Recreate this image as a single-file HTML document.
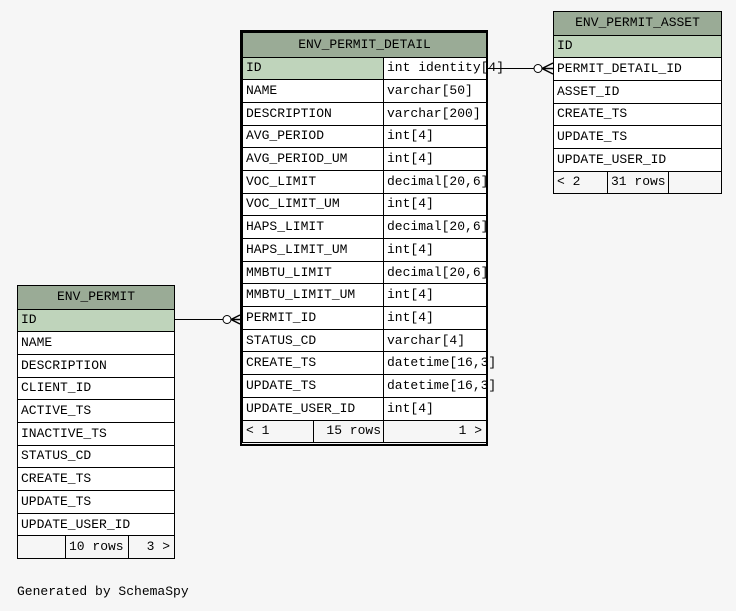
<!DOCTYPE html><html><head><style>
body{margin:0;width:736px;height:611px;background:#f6f6f6;position:relative;overflow:hidden;font-family:"Liberation Mono",monospace;font-size:13px;color:#000}
table{position:absolute;border-collapse:collapse;table-layout:fixed;background:#fff}
td{border:1px solid #000;padding:0 0 0 3px;height:21.7px;white-space:nowrap;overflow:visible;line-height:20px}
td.h{background:#9aab96;text-align:center;padding:0;height:22.5px}
tr.pk td.n{background:#bfd4bb}
tr.f td{background:#f6f6f6}
.r{text-align:right;padding-right:4px}
.box{position:absolute;border:2px solid #000;left:240px;top:30px;width:244px;height:412px}
svg{position:absolute;left:0;top:0}
.gen{position:absolute;left:17px;top:584px}
</style></head><body>
<div class="box"></div>
<table style="left:242px;top:32px;width:244px">
<colgroup><col style="width:141px"><col style="width:103px"></colgroup>
<tr><td class="h" colspan="2" style="height:23.5px">ENV_PERMIT_DETAIL</td></tr>
<tr class="pk"><td class="n">ID</td><td>int identity[4]</td></tr>
<tr><td>NAME</td><td>varchar[50]</td></tr>
<tr><td>DESCRIPTION</td><td>varchar[200]</td></tr>
<tr><td>AVG_PERIOD</td><td>int[4]</td></tr>
<tr><td>AVG_PERIOD_UM</td><td>int[4]</td></tr>
<tr><td>VOC_LIMIT</td><td>decimal[20,6]</td></tr>
<tr><td>VOC_LIMIT_UM</td><td>int[4]</td></tr>
<tr><td>HAPS_LIMIT</td><td>decimal[20,6]</td></tr>
<tr><td>HAPS_LIMIT_UM</td><td>int[4]</td></tr>
<tr><td>MMBTU_LIMIT</td><td>decimal[20,6]</td></tr>
<tr><td>MMBTU_LIMIT_UM</td><td>int[4]</td></tr>
<tr><td>PERMIT_ID</td><td>int[4]</td></tr>
<tr><td>STATUS_CD</td><td>varchar[4]</td></tr>
<tr><td>CREATE_TS</td><td>datetime[16,3]</td></tr>
<tr><td>UPDATE_TS</td><td>datetime[16,3]</td></tr>
<tr><td>UPDATE_USER_ID</td><td>int[4]</td></tr>
<tr class="f"><td colspan="2" style="padding:0"><div style="display:flex;height:21.7px;line-height:20px"><span style="width:67px;border-right:1px solid #000;padding-left:3px">&lt; 1</span><span style="width:67px;border-right:1px solid #000;text-align:right;padding-right:2px">15 rows</span><span style="flex:1;text-align:right;padding-right:4px">1 &gt;</span></div></td></tr>
</table>
<table style="left:553px;top:11px;width:168px">
<colgroup><col style="width:54px"><col style="width:61px"><col style="width:53px"></colgroup>
<tr><td class="h" colspan="3">ENV_PERMIT_ASSET</td></tr>
<tr class="pk"><td class="n" colspan="3">ID</td></tr>
<tr><td colspan="3">PERMIT_DETAIL_ID</td></tr>
<tr><td colspan="3">ASSET_ID</td></tr>
<tr><td colspan="3">CREATE_TS</td></tr>
<tr><td colspan="3">UPDATE_TS</td></tr>
<tr><td colspan="3">UPDATE_USER_ID</td></tr>
<tr class="f"><td>&lt; 2</td><td>31 rows</td><td></td></tr>
</table>
<table style="left:17px;top:285px;width:157px">
<colgroup><col style="width:48px"><col style="width:63px"><col style="width:46px"></colgroup>
<tr><td class="h" colspan="3">ENV_PERMIT</td></tr>
<tr class="pk"><td class="n" colspan="3">ID</td></tr>
<tr><td colspan="3">NAME</td></tr>
<tr><td colspan="3">DESCRIPTION</td></tr>
<tr><td colspan="3">CLIENT_ID</td></tr>
<tr><td colspan="3">ACTIVE_TS</td></tr>
<tr><td colspan="3">INACTIVE_TS</td></tr>
<tr><td colspan="3">STATUS_CD</td></tr>
<tr><td colspan="3">CREATE_TS</td></tr>
<tr><td colspan="3">UPDATE_TS</td></tr>
<tr><td colspan="3">UPDATE_USER_ID</td></tr>
<tr class="f"><td></td><td>10 rows</td><td class="r">3 &gt;</td></tr>
</table>
<svg width="736" height="611">
<line x1="487" y1="68.5" x2="553" y2="68.5" stroke="#000"/>
<circle cx="538" cy="68.5" r="4" fill="#fff" stroke="#000"/>
<path d="M542 68.5 L553 63 M542 68.5 L553 74 M542 68.5 H553" stroke="#000" fill="none" stroke-width="1.5"/>
<line x1="174" y1="319.5" x2="240" y2="319.5" stroke="#000"/>
<circle cx="227" cy="319.5" r="4" fill="#fff" stroke="#000"/>
<path d="M231 319.5 L240 315 M231 319.5 L240 324 M231 319.5 H240" stroke="#000" fill="none" stroke-width="1.5"/>
</svg>
<div class="gen">Generated by SchemaSpy</div>
</body></html>
